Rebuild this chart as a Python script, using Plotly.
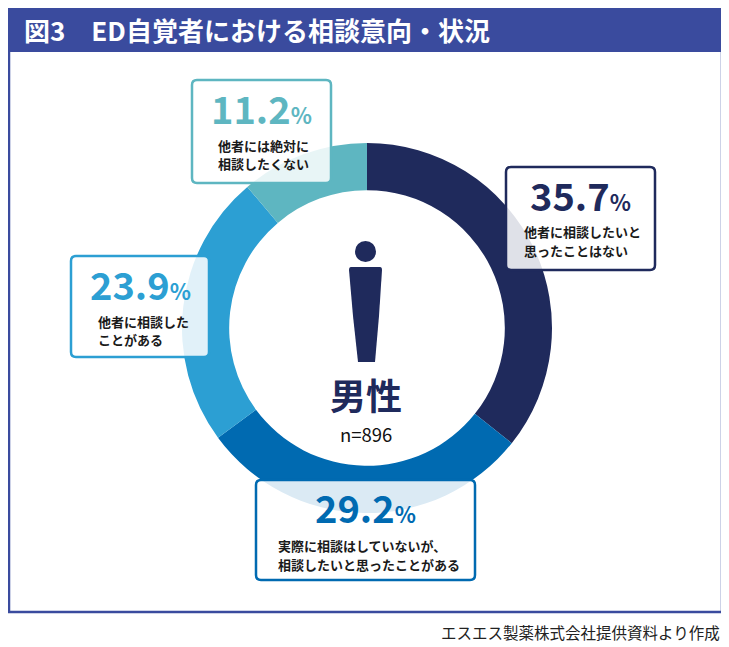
import plotly.graph_objects as go

# data
categories = [
    "他者に相談したいと<br>思ったことはない",
    "実際に相談はしていないが、<br>相談したいと思ったことがある",
    "他者に相談した<br>ことがある",
    "他者には絶対に<br>相談したくない",
]
shares = [35.7, 29.2, 23.9, 11.2]
colors = ["#1f2a5c", "#006ab1", "#2c9fd3", "#5eb6c1"]
group_label = "男性"
sample_size = 896

# the page puts the figure 8px in from the corner, so the figure is a bit
# smaller than the window and all positions below are window pixels
OFF = 8
W, H = 729 - OFF, 647 - OFF
FONT = "Noto Sans CJK JP"


def px(x):
    return (x - OFF) / W


def py(y):
    return 1 - (y - OFF) / H


def rounded_box(x0, y0, x1, y1, r=5):
    pts = [
        f"M{px(x0 + r)},{py(y0)}",
        f"L{px(x1 - r)},{py(y0)}",
        f"Q{px(x1)},{py(y0)} {px(x1)},{py(y0 + r)}",
        f"L{px(x1)},{py(y1 - r)}",
        f"Q{px(x1)},{py(y1)} {px(x1 - r)},{py(y1)}",
        f"L{px(x0 + r)},{py(y1)}",
        f"Q{px(x0)},{py(y1)} {px(x0)},{py(y1 - r)}",
        f"L{px(x0)},{py(y0 + r)}",
        f"Q{px(x0)},{py(y0)} {px(x0 + r)},{py(y0)}",
        "Z",
    ]
    return " ".join(pts)


def label(x, y, text, size, color, xanchor="center"):
    return dict(x=px(x), y=py(y), xref="paper", yref="paper",
                xanchor=xanchor, yanchor="middle",
                showarrow=False, text=text,
                font=dict(family=FONT, size=size, color=color))


fig = go.Figure()

# donut: centre (367, 328), outer radius 185
fig.add_trace(go.Pie(
    values=shares,
    labels=categories,
    marker=dict(colors=colors, line=dict(width=0)),
    hole=0.745,
    sort=False,
    direction="clockwise",
    rotation=0,
    textinfo="none",
    hoverinfo="none",
    showlegend=False,
    domain=dict(x=[px(182), px(552)], y=[py(513), py(143)]),
))

shapes = []
annotations = []

# title band and frame
shapes.append(dict(type="rect", xref="paper", yref="paper",
                   x0=px(8), x1=px(723), y0=py(52), y1=py(8),
                   fillcolor="#3a4b9e", line=dict(width=0), layer="below"))
shapes.append(dict(type="path", xref="paper", yref="paper",
                   path=f"M{px(9)},{py(52)} L{px(9)},{py(612)} L{px(722)},{py(612)} L{px(722)},{py(52)}",
                   line=dict(color="#3a4b9e", width=2.5), layer="below"))
annotations.append(label(22, 29, "<b>図3　ED自覚者における相談意向・状況</b>", 26,
                         "white", xanchor="left"))
annotations.append(label(722, 632, "エスエス製薬株式会社提供資料より作成", 15.5,
                         "#222222", xanchor="right"))

# person icon
navy = colors[0]
shapes.append(dict(type="circle", xref="paper", yref="paper",
                   x0=px(355), x1=px(376), y0=py(262), y1=py(241),
                   fillcolor=navy, line=dict(width=0)))
body = (f"M{px(351)},{py(267)} L{px(380)},{py(267)} Q{px(382)},{py(267)} {px(382)},{py(270)} "
        f"L{px(379)},{py(316)} L{px(375)},{py(362)} L{px(358)},{py(362)} "
        f"L{px(353)},{py(316)} L{px(349)},{py(270)} Q{px(349)},{py(267)} {px(351)},{py(267)} Z")
shapes.append(dict(type="path", xref="paper", yref="paper", path=body,
                   fillcolor=navy, line=dict(width=0)))
annotations.append(label(366, 394, f"<b>{group_label}</b>", 36, navy))
annotations.append(label(366, 434, f"n={sample_size}", 18.5, "#111111"))

# label boxes (x0, y0, x1, y1) and left edge of the caption, in window pixels
boxes = [
    (506, 167, 655, 270, 522),
    (256, 480, 475, 580, 276),
    (71, 256, 209, 357, 96),
    (192, 80, 331, 183, 216),
]
for val, cat, col, (x0, y0, x1, y1, tx) in zip(shares, categories, colors, boxes):
    shapes.append(dict(type="path", xref="paper", yref="paper",
                       path=rounded_box(x0, y0, x1, y1),
                       fillcolor="rgba(255,255,255,0.86)",
                       line=dict(color=col, width=2.5), layer="above"))
    cx = (x0 + x1) / 2
    annotations.append(label(cx, y0 + 27,
                             f"<b>{val}<span style='font-size:22px'>%</span></b>",
                             38, col))
    for i, line in enumerate(cat.split("<br>")):
        annotations.append(label(tx, y0 + 65 + 19 * i, f"<b>{line}</b>", 13,
                                 "#1a1a1a", xanchor="left"))

fig.update_layout(
    width=W, height=H,
    margin=dict(l=0, r=0, t=0, b=0),
    paper_bgcolor="white",
    plot_bgcolor="white",
    shapes=shapes,
    annotations=annotations,
)

fig.write_html("out.html")
